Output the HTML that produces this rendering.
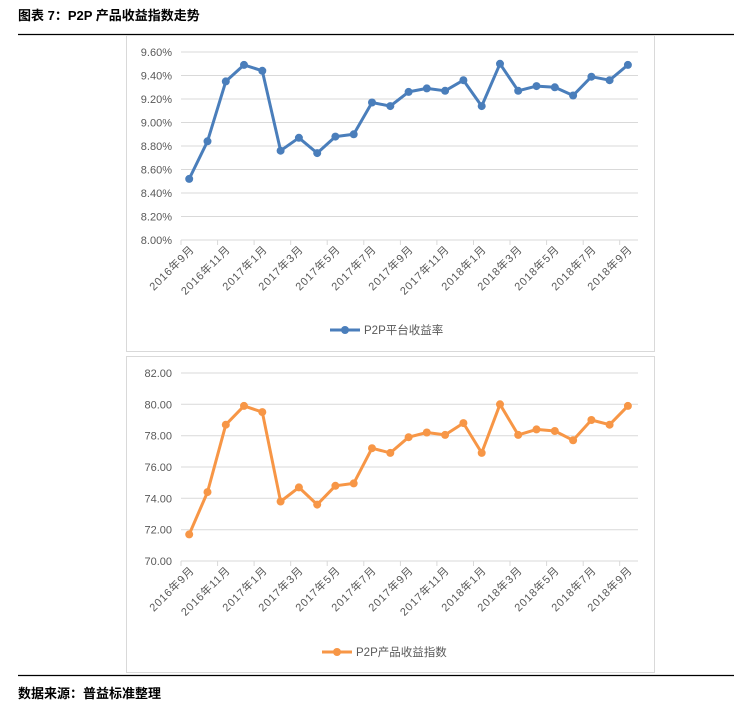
<!DOCTYPE html>
<html><head><meta charset="utf-8"><style>
body{margin:0;background:#fff;width:742px;height:708px;overflow:hidden}
svg text{font-family:"Liberation Sans","Noto Sans CJK SC",sans-serif}
.xl text{letter-spacing:0.8px}
</style></head><body>
<svg width="742" height="708" viewBox="0 0 742 708" xmlns="http://www.w3.org/2000/svg">
<text x="18" y="20" font-size="13" font-weight="bold" fill="#000">图表 7：P2P 产品收益指数走势</text>
<line x1="18" y1="34.5" x2="734" y2="34.5" stroke="#000" stroke-width="1.3"/>
<rect x="126.5" y="35.5" width="528" height="316" fill="#fff" stroke="#d9d9d9"/>
<rect x="126.5" y="356.5" width="528" height="316" fill="#fff" stroke="#d9d9d9"/>
<line x1="18" y1="675.5" x2="734" y2="675.5" stroke="#000" stroke-width="1.3"/>
<text x="18" y="698" font-size="13" font-weight="bold" fill="#000">数据来源：普益标准整理</text>

<g stroke="#d9d9d9" stroke-width="1">
<line x1="181" y1="52" x2="638" y2="52"/><line x1="181" y1="75.5" x2="638" y2="75.5"/><line x1="181" y1="99" x2="638" y2="99"/><line x1="181" y1="122.5" x2="638" y2="122.5"/><line x1="181" y1="146" x2="638" y2="146"/><line x1="181" y1="169.5" x2="638" y2="169.5"/><line x1="181" y1="193" x2="638" y2="193"/><line x1="181" y1="216.5" x2="638" y2="216.5"/><line x1="181" y1="240" x2="638" y2="240"/>
<line x1="181" y1="240" x2="181" y2="245"/><line x1="217.6" y1="240" x2="217.6" y2="245"/><line x1="254.1" y1="240" x2="254.1" y2="245"/><line x1="290.7" y1="240" x2="290.7" y2="245"/><line x1="327.2" y1="240" x2="327.2" y2="245"/><line x1="363.8" y1="240" x2="363.8" y2="245"/><line x1="400.4" y1="240" x2="400.4" y2="245"/><line x1="436.9" y1="240" x2="436.9" y2="245"/><line x1="473.5" y1="240" x2="473.5" y2="245"/><line x1="510" y1="240" x2="510" y2="245"/><line x1="546.6" y1="240" x2="546.6" y2="245"/><line x1="583.2" y1="240" x2="583.2" y2="245"/><line x1="619.7" y1="240" x2="619.7" y2="245"/>
</g>
<g font-size="11" fill="#595959" text-anchor="end">
<text x="172" y="56">9.60%</text><text x="172" y="79.5">9.40%</text><text x="172" y="103">9.20%</text><text x="172" y="126.5">9.00%</text><text x="172" y="150">8.80%</text><text x="172" y="173.5">8.60%</text><text x="172" y="197">8.40%</text><text x="172" y="220.5">8.20%</text><text x="172" y="244">8.00%</text>
</g>
<g class="xl" font-size="11" fill="#595959" text-anchor="end">
<text transform="translate(195,250) rotate(-45)">2016年9月</text>
<text transform="translate(231,250) rotate(-45)">2016年11月</text>
<text transform="translate(268,250) rotate(-45)">2017年1月</text>
<text transform="translate(304,250) rotate(-45)">2017年3月</text>
<text transform="translate(341,250) rotate(-45)">2017年5月</text>
<text transform="translate(377,250) rotate(-45)">2017年7月</text>
<text transform="translate(414,250) rotate(-45)">2017年9月</text>
<text transform="translate(450,250) rotate(-45)">2017年11月</text>
<text transform="translate(487,250) rotate(-45)">2018年1月</text>
<text transform="translate(523,250) rotate(-45)">2018年3月</text>
<text transform="translate(560,250) rotate(-45)">2018年5月</text>
<text transform="translate(597,250) rotate(-45)">2018年7月</text>
<text transform="translate(633,250) rotate(-45)">2018年9月</text>
</g>
<polyline fill="none" stroke="#4a7ebb" stroke-width="3" stroke-linejoin="round" points="189.2,178.9 207.5,141.3 225.8,81.4 244,64.9 262.3,70.8 280.6,150.7 298.9,137.8 317.2,153.1 335.4,136.6 353.7,134.3 372,102.5 390.3,106.1 408.6,91.9 426.8,88.4 445.1,90.8 463.4,80.2 481.7,106.1 500,63.8 518.2,90.8 536.5,86.1 554.8,87.3 573.1,95.5 591.4,76.7 609.6,80.2 627.9,64.9"/>
<g fill="#4a7ebb">
<circle cx="189.2" cy="178.9" r="4"/><circle cx="207.5" cy="141.3" r="4"/><circle cx="225.8" cy="81.4" r="4"/><circle cx="244" cy="64.9" r="4"/><circle cx="262.3" cy="70.8" r="4"/><circle cx="280.6" cy="150.7" r="4"/><circle cx="298.9" cy="137.8" r="4"/><circle cx="317.2" cy="153.1" r="4"/><circle cx="335.4" cy="136.6" r="4"/><circle cx="353.7" cy="134.3" r="4"/><circle cx="372" cy="102.5" r="4"/><circle cx="390.3" cy="106.1" r="4"/><circle cx="408.6" cy="91.9" r="4"/><circle cx="426.8" cy="88.4" r="4"/><circle cx="445.1" cy="90.8" r="4"/><circle cx="463.4" cy="80.2" r="4"/><circle cx="481.7" cy="106.1" r="4"/><circle cx="500" cy="63.8" r="4"/><circle cx="518.2" cy="90.8" r="4"/><circle cx="536.5" cy="86.1" r="4"/><circle cx="554.8" cy="87.3" r="4"/><circle cx="573.1" cy="95.5" r="4"/><circle cx="591.4" cy="76.7" r="4"/><circle cx="609.6" cy="80.2" r="4"/><circle cx="627.9" cy="64.9" r="4"/>
</g>
<line x1="330" y1="330" x2="360" y2="330" stroke="#4a7ebb" stroke-width="3"/><circle cx="345" cy="330" r="4" fill="#4a7ebb"/>
<text x="364" y="334" font-size="11.5" fill="#595959">P2P平台收益率</text>

<g stroke="#d9d9d9" stroke-width="1">
<line x1="181" y1="373" x2="638" y2="373"/><line x1="181" y1="404.3" x2="638" y2="404.3"/><line x1="181" y1="435.7" x2="638" y2="435.7"/><line x1="181" y1="467" x2="638" y2="467"/><line x1="181" y1="498.3" x2="638" y2="498.3"/><line x1="181" y1="529.7" x2="638" y2="529.7"/><line x1="181" y1="561" x2="638" y2="561"/>
<line x1="181" y1="561" x2="181" y2="566"/><line x1="217.6" y1="561" x2="217.6" y2="566"/><line x1="254.1" y1="561" x2="254.1" y2="566"/><line x1="290.7" y1="561" x2="290.7" y2="566"/><line x1="327.2" y1="561" x2="327.2" y2="566"/><line x1="363.8" y1="561" x2="363.8" y2="566"/><line x1="400.4" y1="561" x2="400.4" y2="566"/><line x1="436.9" y1="561" x2="436.9" y2="566"/><line x1="473.5" y1="561" x2="473.5" y2="566"/><line x1="510" y1="561" x2="510" y2="566"/><line x1="546.6" y1="561" x2="546.6" y2="566"/><line x1="583.2" y1="561" x2="583.2" y2="566"/><line x1="619.7" y1="561" x2="619.7" y2="566"/>
</g>
<g font-size="11" fill="#595959" text-anchor="end">
<text x="172" y="377">82.00</text><text x="172" y="408.3">80.00</text><text x="172" y="439.7">78.00</text><text x="172" y="471">76.00</text><text x="172" y="502.3">74.00</text><text x="172" y="533.7">72.00</text><text x="172" y="565">70.00</text>
</g>
<g class="xl" font-size="11" fill="#595959" text-anchor="end">
<text transform="translate(195,571) rotate(-45)">2016年9月</text>
<text transform="translate(231,571) rotate(-45)">2016年11月</text>
<text transform="translate(268,571) rotate(-45)">2017年1月</text>
<text transform="translate(304,571) rotate(-45)">2017年3月</text>
<text transform="translate(341,571) rotate(-45)">2017年5月</text>
<text transform="translate(377,571) rotate(-45)">2017年7月</text>
<text transform="translate(414,571) rotate(-45)">2017年9月</text>
<text transform="translate(450,571) rotate(-45)">2017年11月</text>
<text transform="translate(487,571) rotate(-45)">2018年1月</text>
<text transform="translate(523,571) rotate(-45)">2018年3月</text>
<text transform="translate(560,571) rotate(-45)">2018年5月</text>
<text transform="translate(597,571) rotate(-45)">2018年7月</text>
<text transform="translate(633,571) rotate(-45)">2018年9月</text>
</g>
<polyline fill="none" stroke="#f79646" stroke-width="3" stroke-linejoin="round" points="189.2,534.4 207.5,492.1 225.8,424.7 244,405.9 262.3,412.1 280.6,501.5 298.9,487.4 317.2,504.6 335.4,485.8 353.7,483.4 372,448.2 390.3,452.9 408.6,437.2 426.8,432.5 445.1,434.9 463.4,423.1 481.7,452.9 500,404.3 518.2,434.9 536.5,429.4 554.8,431 573.1,440.3 591.4,420 609.6,424.7 627.9,405.9"/>
<g fill="#f79646">
<circle cx="189.2" cy="534.4" r="4"/><circle cx="207.5" cy="492.1" r="4"/><circle cx="225.8" cy="424.7" r="4"/><circle cx="244" cy="405.9" r="4"/><circle cx="262.3" cy="412.1" r="4"/><circle cx="280.6" cy="501.5" r="4"/><circle cx="298.9" cy="487.4" r="4"/><circle cx="317.2" cy="504.6" r="4"/><circle cx="335.4" cy="485.8" r="4"/><circle cx="353.7" cy="483.4" r="4"/><circle cx="372" cy="448.2" r="4"/><circle cx="390.3" cy="452.9" r="4"/><circle cx="408.6" cy="437.2" r="4"/><circle cx="426.8" cy="432.5" r="4"/><circle cx="445.1" cy="434.9" r="4"/><circle cx="463.4" cy="423.1" r="4"/><circle cx="481.7" cy="452.9" r="4"/><circle cx="500" cy="404.3" r="4"/><circle cx="518.2" cy="434.9" r="4"/><circle cx="536.5" cy="429.4" r="4"/><circle cx="554.8" cy="431" r="4"/><circle cx="573.1" cy="440.3" r="4"/><circle cx="591.4" cy="420" r="4"/><circle cx="609.6" cy="424.7" r="4"/><circle cx="627.9" cy="405.9" r="4"/>
</g>
<line x1="322" y1="652" x2="352" y2="652" stroke="#f79646" stroke-width="3"/><circle cx="337" cy="652" r="4" fill="#f79646"/>
<text x="356" y="656" font-size="11.5" fill="#595959">P2P产品收益指数</text>
</svg>
</body></html>
